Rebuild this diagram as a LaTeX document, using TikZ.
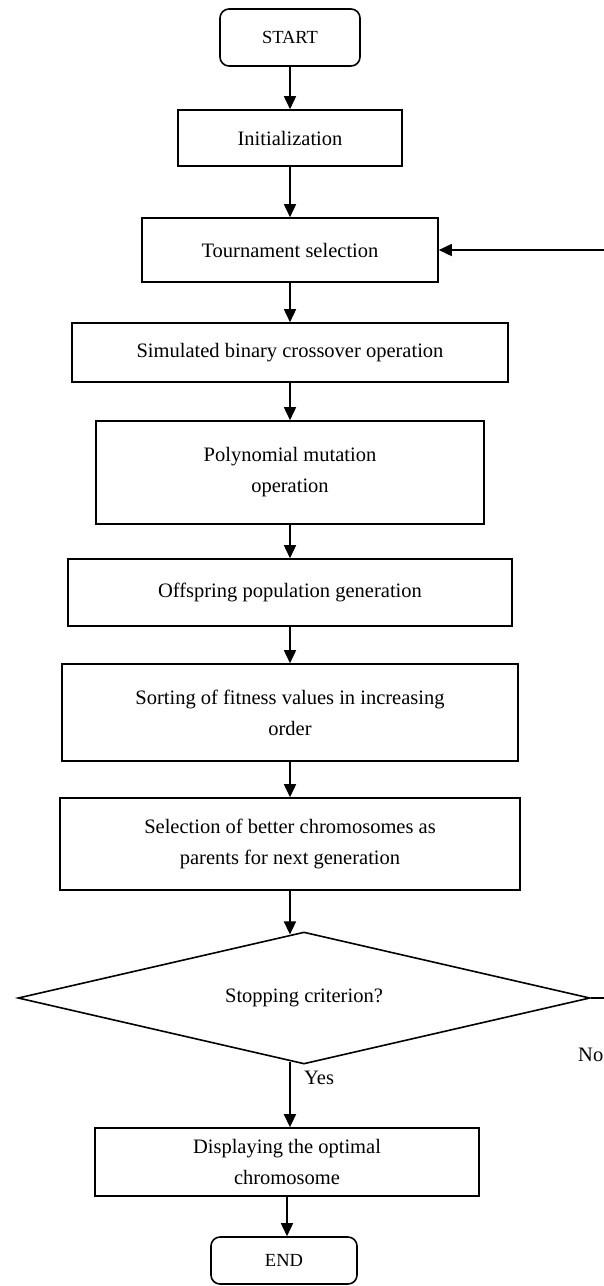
\documentclass[tikz,border=0pt]{standalone}
\usepackage{fontspec}
\setmainfont{Liberation Serif}
\usetikzlibrary{arrows.meta,shapes.geometric,calc}
\begin{document}
\begin{tikzpicture}[x=1pt,y=-1pt,
  box/.style={draw,line width=1.6pt,inner sep=0pt,align=center,font=\fontsize{20.5}{31}\selectfont},
  term/.style={draw,line width=1.6pt,rounded corners=9pt,inner sep=0pt,font=\fontsize{18.5}{22}\selectfont},
  decision/.style={draw,diamond,aspect=4.3,line width=1.6pt,inner sep=0pt,font=\fontsize{20.5}{24}\selectfont},
  flow/.style={line width=1.6pt,-{Triangle[length=13pt,width=12pt]}},
  lbl/.style={inner sep=0pt,font=\fontsize{20.5}{24}\selectfont}]
\useasboundingbox (0,0) rectangle (604,1286);
\node[term,minimum width=140pt,minimum height=57pt] (start) at (290,37.5) {START};
\node[box,minimum width=224pt,minimum height=56pt] (init) at (290,138) {Initialization};
\node[box,minimum width=296pt,minimum height=64pt] (tour) at (290,250) {Tournament selection};
\node[box,minimum width=436pt,minimum height=59pt] (sim) at (290,352.5) {Simulated binary crossover operation};
\node[box,minimum width=388pt,minimum height=103pt] (poly) at (290,472.5) {Polynomial mutation\\operation};
\node[box,minimum width=444pt,minimum height=67pt] (off) at (290,592.5) {Offspring population generation};
\node[box,minimum width=456pt,minimum height=97pt] (sort) at (290,712.5) {Sorting of fitness values in increasing\\order};
\node[box,minimum width=460pt,minimum height=92pt] (sel) at (290,844) {Selection of better chromosomes as\\parents for next generation};
\node[decision,minimum width=572pt,minimum height=132pt] (dia) at (304,998) {Stopping criterion?};
\node[box,minimum width=384pt,minimum height=68pt] (disp) at (287,1162) {Displaying the optimal\\chromosome};
\node[term,minimum width=146pt,minimum height=47pt] (end) at (284,1260.5) {END};
\coordinate (diaT) at ($(dia.north)!0.049!(dia.west)$);
\coordinate (diaB) at ($(dia.south)!0.049!(dia.west)$);
\coordinate (fb) at (608,998);
\node[lbl,anchor=west] (yes) at (304,1078) {Yes};
\node[lbl,anchor=west] (no) at (578,1055) {No};
\draw[flow] (start) -- (init);
\draw[flow] (init) -- (tour);
\draw[flow] (tour) -- (sim);
\draw[flow] (sim) -- (poly);
\draw[flow] (poly) -- (off);
\draw[flow] (off) -- (sort);
\draw[flow] (sort) -- (sel);
\draw[flow] (sel.south) -- (diaT);
\draw[flow] (diaB) -- (diaB |- disp.north);
\draw[flow] (disp.south) -- (disp.south |- end.north);
\draw[flow] (dia.east) -- (fb) |- (tour.east);
\end{tikzpicture}
\end{document}
